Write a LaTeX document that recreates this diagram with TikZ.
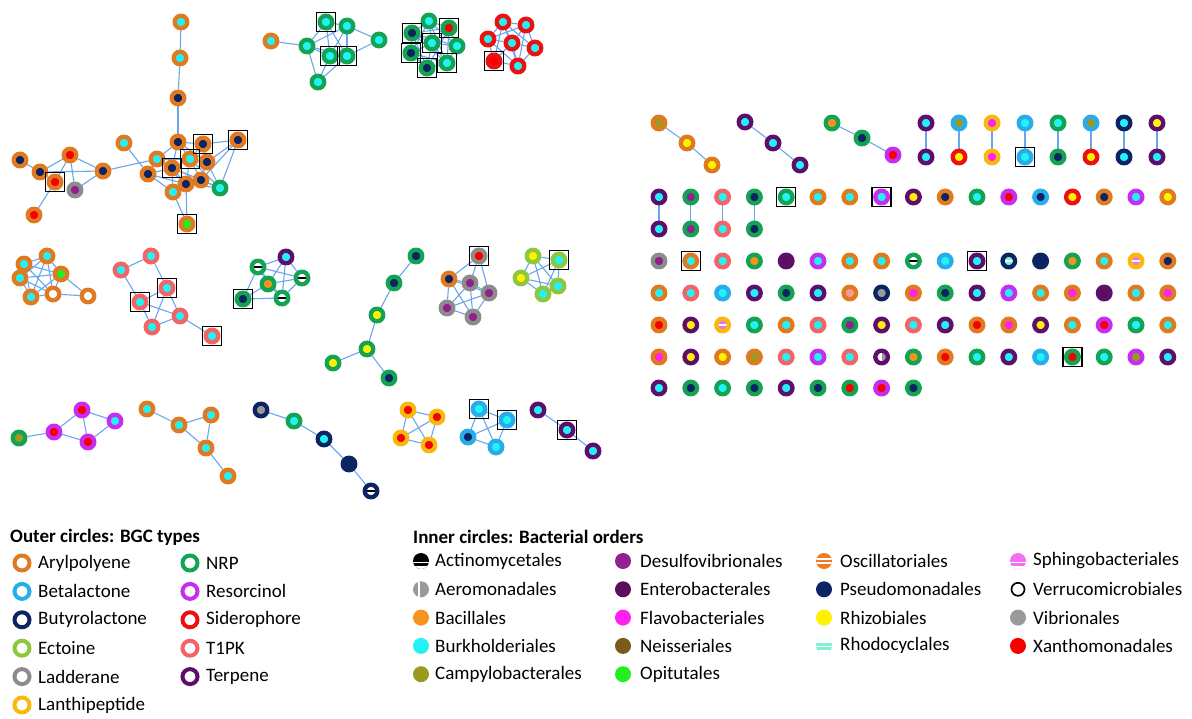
\documentclass[tikz,border=0pt]{standalone}
\usepackage{fontspec}
\setmainfont{Carlito}
\usetikzlibrary{calc}
\pgfdeclarelayer{bg}
\pgfsetlayers{bg,main}
\definecolor{aryl}{HTML}{E07A20}
\definecolor{beta}{HTML}{27AEEA}
\definecolor{buty}{HTML}{0D2463}
\definecolor{ecto}{HTML}{8DC63F}
\definecolor{ladd}{HTML}{8C8C8C}
\definecolor{lanth}{HTML}{F8B90F}
\definecolor{nrp}{HTML}{13A352}
\definecolor{reso}{HTML}{C62DF0}
\definecolor{sider}{HTML}{EC1010}
\definecolor{tpk}{HTML}{F26466}
\definecolor{terp}{HTML}{5E0F6C}
\definecolor{bac}{HTML}{F7941D}
\definecolor{burk}{HTML}{22F2F5}
\definecolor{camp}{HTML}{9B9A20}
\definecolor{desulf}{HTML}{93208F}
\definecolor{entero}{HTML}{5C0E5C}
\definecolor{flavo}{HTML}{FF22EE}
\definecolor{neiss}{HTML}{7B5B1C}
\definecolor{opit}{HTML}{22EE22}
\definecolor{oscil}{HTML}{F27A22}
\definecolor{pseudo}{HTML}{0D2463}
\definecolor{rhizo}{HTML}{FFF200}
\definecolor{rhodo}{HTML}{7FF2D4}
\definecolor{sphingo}{HTML}{F070F0}
\definecolor{vibrio}{HTML}{9A9A9A}
\definecolor{xantho}{HTML}{F70000}
\definecolor{salm}{HTML}{F49A9E}
\definecolor{edgec}{HTML}{6AA6EE}
\newcommand\bnode[5][pl]{\node[bn={#4}{#5},#1] (#2) at (#3) {};}
\newcommand\ppc{path picture bounding box.center}
\tikzset{
  bn/.style 2 args={circle,draw=#1,fill=#2,line width=4.3pt,minimum size=12.6pt,inner sep=0pt},
  pl/.style={},
  act/.style={path picture={\fill[black] ([xshift=-5pt,yshift=-1.2pt]\ppc) rectangle ([xshift=5pt,yshift=1.2pt]\ppc);}},
  stp/.style={path picture={\fill[white] ([xshift=-5pt,yshift=-0.8pt]\ppc) rectangle ([xshift=5pt,yshift=0.8pt]\ppc);}},
  aer/.style={path picture={\fill[vibrio] ([yshift=-6pt]\ppc) rectangle ([xshift=6pt,yshift=6pt]\ppc);}},
  ed/.style={draw=edgec,line width=1.1pt},
  boxl/.style={draw=black,line width=1.4pt},
  ltext/.style={anchor=west,inner sep=0pt,font=\fontsize{19}{22}\selectfont},
  ltitle/.style={anchor=west,inner sep=0pt,font=\fontsize{19}{22}\selectfont\bfseries},
  lring/.style={circle,draw=#1,line width=4pt,minimum size=15pt,inner sep=0pt},
  ldot/.style={circle,fill=#1,minimum size=16pt,inner sep=0pt},
  lbar/.style={ldot=#1,path picture={\fill[white] ([xshift=-9pt,yshift=-2.2pt]\ppc) rectangle ([xshift=9pt,yshift=-0.6pt]\ppc); \fill[white] ([xshift=-9pt,yshift=-9pt]\ppc) rectangle ([xshift=9pt,yshift=-4.6pt]\ppc);}},
  ltwo/.style={ldot=#1,path picture={\fill[white] ([xshift=-9pt,yshift=1.4pt]\ppc) rectangle ([xshift=9pt,yshift=3pt]\ppc); \fill[white] ([xshift=-9pt,yshift=-3pt]\ppc) rectangle ([xshift=9pt,yshift=-1.4pt]\ppc);}},
  lrh/.style={ldot=rhodo,path picture={\fill[white] ([xshift=-9pt,yshift=3pt]\ppc) rectangle ([xshift=9pt,yshift=9pt]\ppc); \fill[white] ([xshift=-9pt,yshift=-1.2pt]\ppc) rectangle ([xshift=9pt,yshift=0.4pt]\ppc); \fill[white] ([xshift=-9pt,yshift=-9pt]\ppc) rectangle ([xshift=9pt,yshift=-4.5pt]\ppc);}},
  lgap/.style={ldot=vibrio,path picture={\fill[white] ([xshift=-3pt,yshift=-9pt]\ppc) rectangle ([xshift=-1pt,yshift=9pt]\ppc);}},
  lver/.style={circle,draw=black,line width=1.7pt,fill=white,minimum size=13pt,inner sep=0pt},
}
\begin{document}
\begin{tikzpicture}[x=1pt,y=-1pt]
\useasboundingbox (0,0) rectangle (1192,718);
% ---------- top-left cluster
\bnode{a1}{181,22}{aryl}{burk}
\bnode{a2}{180,58}{aryl}{burk}
\bnode{a3}{178,98}{aryl}{pseudo}
\bnode{a4}{178,142}{aryl}{pseudo}
\bnode{a5}{203,144}{aryl}{pseudo}
\bnode{a6}{238,140}{aryl}{pseudo}
\bnode{a7}{157,159}{aryl}{burk}
\bnode{a8}{190,159}{aryl}{burk}
\bnode{a9}{207,162}{aryl}{pseudo}
\bnode{a10}{172,168}{aryl}{pseudo}
\bnode{a11}{148,174}{aryl}{pseudo}
\bnode{a12}{201,180}{aryl}{pseudo}
\bnode{a13}{186,184}{aryl}{pseudo}
\bnode{a14}{220,188}{nrp}{burk}
\bnode{a15}{173,192}{aryl}{burk}
\bnode{a16}{187,224}{aryl}{opit}
\bnode{a17}{124,143}{aryl}{burk}
\bnode{a18}{103,171}{aryl}{pseudo}
\bnode{a19}{70,155}{aryl}{xantho}
\bnode{a20}{20,160}{aryl}{pseudo}
\bnode{a21}{40,172}{aryl}{pseudo}
\bnode{a22}{55,182}{aryl}{xantho}
\bnode{a23}{75,190}{ladd}{desulf}
\bnode{a24}{34,215}{aryl}{xantho}
% ---------- top-middle clusters
\bnode{b1}{271,41}{aryl}{burk}
\bnode{b2}{326,22}{nrp}{burk}
\bnode{b3}{347,26}{nrp}{burk}
\bnode{b4}{307,46}{nrp}{burk}
\bnode{b5}{379,40}{nrp}{burk}
\bnode{b6}{330,56}{nrp}{burk}
\bnode{b7}{347,56}{nrp}{burk}
\bnode{b8}{318,82}{nrp}{burk}
\bnode{c1}{412,33}{nrp}{pseudo}
\bnode{c2}{429,21}{nrp}{burk}
\bnode{c3}{449,28}{nrp}{xantho}
\bnode{c4}{432,43}{nrp}{burk}
\bnode{c5}{457,46}{nrp}{burk}
\bnode{c6}{411,53}{nrp}{pseudo}
\bnode{c7}{427,68}{nrp}{pseudo}
\bnode{c8}{447,63}{nrp}{burk}
\bnode{d1}{503,22}{sider}{burk}
\bnode{d2}{526,25}{sider}{burk}
\bnode{d3}{488,39}{sider}{burk}
\bnode{d4}{512,43}{sider}{burk}
\bnode{d5}{535,48}{sider}{burk}
\bnode{d6}{494,61}{sider}{xantho}
\bnode{d7}{518,66}{sider}{burk}
% ---------- middle-left clusters
\bnode{e1}{24,264}{aryl}{burk}
\bnode{e2}{47,256}{aryl}{burk}
\bnode{e3}{20,278}{aryl}{burk}
\bnode{e4}{61,274}{aryl}{opit}
\bnode{e5}{31,297}{aryl}{burk}
\bnode{e6}{53,294}{aryl}{white}
\bnode{e7}{88,296}{aryl}{white}
\bnode{f1}{151,256}{tpk}{burk}
\bnode{f2}{121,270}{tpk}{burk}
\bnode{f3}{167,288}{tpk}{burk}
\bnode{f4}{140,302}{tpk}{burk}
\bnode{f5}{180,316}{tpk}{burk}
\bnode{f6}{152,327}{tpk}{burk}
\bnode{f7}{212,336}{tpk}{burk}
\bnode{g1}{286,257}{terp}{burk}
\bnode[act]{g2}{258,267}{nrp}{white}
\bnode[act]{g3}{302,278}{nrp}{white}
\bnode{g4}{268,284}{nrp}{bac}
\bnode[act]{g5}{282,298}{nrp}{white}
\bnode{g6}{243,299}{nrp}{pseudo}
% ---------- middle clusters
\bnode{h1}{416,256}{nrp}{pseudo}
\bnode{h2}{394,283}{nrp}{pseudo}
\bnode{h3}{377,315}{nrp}{rhizo}
\bnode{h4}{367,349}{nrp}{rhizo}
\bnode{h5}{333,363}{nrp}{rhizo}
\bnode{h6}{389,378}{nrp}{pseudo}
\bnode{i1}{479,256}{ladd}{xantho}
\bnode{i2}{449,279}{aryl}{pseudo}
\bnode{i3}{470,283}{ladd}{desulf}
\bnode{i4}{489,293}{ladd}{desulf}
\bnode{i5}{447,308}{ladd}{desulf}
\bnode{i6}{473,317}{ladd}{desulf}
\bnode{j1}{533,256}{ecto}{rhizo}
\bnode{j2}{559,260}{ecto}{burk}
\bnode{j3}{521,278}{ecto}{rhizo}
\bnode{j4}{558,286}{ecto}{burk}
\bnode{j5}{543,294}{ecto}{burk}
% ---------- bottom clusters
\bnode{k1}{19,438}{nrp}{camp}
\bnode{k2}{54,432}{reso}{xantho}
\bnode{k3}{82,410}{reso}{xantho}
\bnode{k4}{115,421}{reso}{burk}
\bnode{k5}{88,442}{reso}{xantho}
\bnode{l1}{147,409}{aryl}{burk}
\bnode{l2}{179,425}{aryl}{burk}
\bnode{l3}{211,415}{aryl}{burk}
\bnode{l4}{206,448}{aryl}{burk}
\bnode{l5}{228,476}{aryl}{burk}
\bnode{m1}{261,410}{buty}{vibrio}
\bnode{m2}{294,421}{nrp}{burk}
\bnode{m3}{324,439}{buty}{burk}
\bnode{m4}{349,464}{buty}{pseudo}
\bnode[act]{m5}{371,491}{buty}{white}
\bnode{n1}{408,410}{lanth}{xantho}
\bnode{n2}{437,417}{lanth}{xantho}
\bnode{n3}{401,438}{lanth}{xantho}
\bnode{n4}{429,445}{lanth}{xantho}
\bnode{o1}{479,409}{beta}{burk}
\bnode{o2}{507,420}{beta}{burk}
\bnode{o3}{468,437}{beta}{pseudo}
\bnode{o4}{496,447}{beta}{burk}
\bnode{p1}{538,410}{terp}{burk}
\bnode{p2}{567,430}{terp}{burk}
\bnode{p3}{593,451}{terp}{burk}
% ---------- right: chains of three
\bnode{q1}{659,123}{aryl}{camp}
\bnode{q2}{687,143}{aryl}{rhizo}
\bnode{q3}{712,165}{aryl}{rhizo}
\bnode{u1}{745,122}{terp}{burk}
\bnode{u2}{773,143}{terp}{burk}
\bnode{u3}{800,165}{terp}{burk}
\bnode{s1}{832,123}{nrp}{bac}
\bnode{s2}{862,138}{nrp}{pseudo}
\bnode{s3}{893,155}{reso}{xantho}
% ---------- right: vertical pairs
\foreach \x/\o/\i/\p/\j [count=\k] in {926/terp/burk/terp/burk, 959/beta/camp/sider/rhizo, 992/lanth/flavo/lanth/flavo, 1025/beta/burk/beta/burk, 1058/nrp/burk/nrp/pseudo, 1091/beta/camp/sider/rhizo, 1124/buty/burk/buty/burk, 1157/terp/rhizo/terp/burk}{
  \node[bn={\o}{\i}] (t\k a) at (\x,123) {};
  \node[bn={\p}{\j}] (t\k b) at (\x,157) {};
}
% ---------- right: grid rows
\foreach \o/\i/\s [count=\k] in {terp/burk/pl, nrp/desulf/pl, tpk/burk/pl, nrp/pseudo/pl, nrp/burk/pl, aryl/burk/pl, aryl/burk/pl, reso/burk/pl, terp/rhizo/pl, aryl/pseudo/pl, nrp/burk/pl, reso/xantho/pl, beta/pseudo/pl, sider/rhizo/pl, aryl/pseudo/pl, reso/burk/pl, aryl/rhizo/pl}
  {\node[bn={\o}{\i},\s] (r2c\k) at ({659+31.8*(\k-1)},197) {};}
\foreach \o/\i/\s [count=\k] in {terp/burk/pl, nrp/desulf/pl, tpk/burk/pl, nrp/pseudo/pl}
  {\node[bn={\o}{\i},\s] (r2b\k) at ({659+31.8*(\k-1)},229) {};}
\foreach \o/\i/\s [count=\k] in {ladd/desulf/pl, aryl/burk/pl, tpk/burk/pl, nrp/bac/pl, terp/entero/pl, reso/burk/pl, aryl/burk/pl, aryl/burk/pl, nrp/white/act, beta/burk/pl, terp/burk/pl, buty/rhodo/stp, buty/pseudo/pl, nrp/bac/pl, aryl/burk/pl, lanth/sphingo/stp, aryl/pseudo/pl}
  {\node[bn={\o}{\i},\s] (r3c\k) at ({659+31.8*(\k-1)},261) {};}
\foreach \o/\i/\s [count=\k] in {aryl/burk/pl, tpk/burk/pl, beta/burk/pl, terp/burk/pl, nrp/pseudo/pl, terp/burk/pl, aryl/salm/pl, buty/vibrio/pl, aryl/flavo/pl, nrp/pseudo/pl, terp/burk/pl, reso/burk/pl, aryl/burk/pl, aryl/flavo/pl, terp/entero/pl, aryl/burk/pl, aryl/flavo/pl}
  {\node[bn={\o}{\i},\s] (r4c\k) at ({659+31.8*(\k-1)},293) {};}
\foreach \o/\i/\s [count=\k] in {aryl/xantho/pl, terp/rhizo/pl, lanth/sphingo/stp, nrp/burk/pl, aryl/burk/pl, tpk/burk/pl, nrp/desulf/pl, terp/rhizo/pl, tpk/burk/pl, terp/burk/pl, aryl/xantho/pl, aryl/flavo/pl, terp/rhizo/pl, aryl/burk/pl, reso/xantho/pl, nrp/burk/pl, aryl/burk/pl}
  {\node[bn={\o}{\i},\s] (r5c\k) at ({659+31.8*(\k-1)},325) {};}
\foreach \o/\i/\s [count=\k] in {aryl/flavo/pl, terp/rhizo/pl, aryl/rhizo/pl, aryl/camp/pl, tpk/burk/pl, reso/burk/pl, tpk/burk/pl, terp/white/aer, nrp/bac/pl, aryl/xantho/pl, nrp/burk/pl, terp/burk/pl, beta/burk/pl, nrp/xantho/pl, nrp/burk/pl, reso/camp/pl, terp/burk/pl}
  {\node[bn={\o}{\i},\s] (r6c\k) at ({659+31.8*(\k-1)},357) {};}
\foreach \o/\i/\s [count=\k] in {terp/burk/pl, nrp/pseudo/pl, nrp/burk/pl, nrp/pseudo/pl, terp/burk/pl, nrp/pseudo/pl, nrp/xantho/pl, reso/xantho/pl, nrp/pseudo/pl}
  {\node[bn={\o}{\i},\s] (r7c\k) at ({659+31.8*(\k-1)},388) {};}
% ---------- edges
\begin{pgfonlayer}{bg}
\foreach \a/\b in {a1/a2,a2/a3,a3/a4,a4/a5,a4/a7,a4/a8,a4/a9,a4/a10,a5/a6,a5/a8,a5/a9,a6/a9,a6/a12,a6/a14,a7/a8,a7/a10,a7/a11,a7/a13,a8/a9,a8/a10,a8/a12,a8/a13,a8/a14,a9/a12,a9/a14,a10/a11,a10/a12,a10/a13,a10/a15,a11/a13,a11/a15,a11/a17,a12/a13,a12/a14,a13/a14,a13/a15,a13/a16,a15/a16,a10/a14,a18/a7,a20/a21,a21/a19,a21/a22,a21/a18,a19/a22,a19/a18,a19/a23,a22/a24,a23/a18,
 b1/b4,b4/b2,b4/b3,b4/b6,b4/b7,b4/b8,b2/b3,b2/b6,b2/b7,b3/b6,b3/b7,b3/b5,b5/b7,b6/b7,b6/b8,b7/b8,
 c1/c2,c1/c3,c1/c4,c1/c5,c1/c6,c1/c7,c1/c8,c2/c3,c2/c4,c2/c5,c2/c6,c3/c4,c3/c5,c3/c8,c4/c5,c4/c6,c4/c7,c4/c8,c5/c8,c6/c7,c6/c8,c7/c8,c2/c8,c3/c7,
 d1/d2,d1/d3,d1/d4,d1/d5,d1/d7,d2/d4,d2/d5,d2/d3,d3/d4,d3/d6,d3/d7,d4/d5,d4/d6,d4/d7,d5/d7,d6/d7,d2/d7,d1/d6,
 e1/e2,e1/e3,e1/e4,e1/e5,e1/e6,e2/e3,e2/e4,e2/e5,e2/e6,e3/e4,e3/e5,e3/e6,e4/e5,e4/e6,e5/e6,e4/e7,e6/e7,
 f1/f2,f1/f3,f2/f4,f3/f4,f3/f5,f3/f6,f4/f5,f4/f6,f5/f6,f5/f7,
 g1/g2,g1/g3,g1/g4,g1/g5,g2/g3,g2/g4,g2/g6,g2/g5,g3/g4,g3/g5,g4/g5,g4/g6,g5/g6,
 h1/h2,h2/h3,h3/h4,h4/h5,h4/h6,
 i1/i2,i1/i3,i1/i4,i2/i3,i2/i5,i2/i6,i2/i4,i3/i4,i3/i5,i3/i6,i4/i5,i4/i6,i5/i6,
 j1/j2,j1/j3,j1/j4,j1/j5,j2/j3,j2/j4,j2/j5,j3/j4,j3/j5,j4/j5,
 k1/k2,k2/k3,k2/k5,k3/k5,k3/k4,k4/k5,
 l1/l2,l2/l3,l2/l4,l3/l4,l4/l5,
 m1/m2,m2/m3,m3/m4,m4/m5,
 n1/n2,n1/n3,n1/n4,n2/n3,n2/n4,n3/n4,
 o1/o2,o1/o3,o1/o4,o2/o3,o2/o4,o3/o4,
 p1/p2,p2/p3,
 q1/q2,q2/q3,u1/u2,u2/u3,s1/s2,s2/s3,
 t1a/t1b,t2a/t2b,t3a/t3b,t4a/t4b,t5a/t5b,t6a/t6b,t7a/t7b,t8a/t8b,
 r2c1/r2b1,r2c2/r2b2,r2c3/r2b3,r2c4/r2b4}
  \draw[ed] (\a) -- (\b);
\end{pgfonlayer}
% ---------- boxes
\foreach \n in {a5,a6,a8,a10,a16,a22,b2,b6,b7,c1,c3,c4,c6,c7,c8,d6,f3,f4,f7,g6,i1,j2,o1,o2,p2,t4b,r2c5,r2c8,r3c2,r3c11,r6c14}
  \draw[boxl] ($(\n)+(-9.5,-9.5)$) rectangle ($(\n)+(9.5,9.5)$);
% ---------- legend: outer circles
\node[ltitle] (ot) at (10,537) {Outer circles: BGC types};
\foreach \c/\t [count=\k] in {aryl/Arylpolyene,beta/Betalactone,buty/Butyrolactone,ecto/Ectoine,ladd/Ladderane,lanth/Lanthipeptide}{
  \node[lring=\c] (lo\k) at (22,{563+28.4*(\k-1)}) {};
  \node[ltext] (lot\k) at (38,{563+28.4*(\k-1)}) {\t};
}
\foreach \c/\t [count=\k] in {nrp/NRP,reso/Resorcinol,sider/Siderophore,tpk/T1PK,terp/Terpene}{
  \node[lring=\c] (lp\k) at (190,{563+28.4*(\k-1)}) {};
  \node[ltext] (lpt\k) at (206,{563+28.4*(\k-1)}) {\t};
}
% ---------- legend: inner circles
\node[ltitle] (it) at (413,537) {Inner circles: Bacterial orders};
\node[lbar=black] (i1a) at (421,561) {};      \node[ltext] at (435,561) {Actinomycetales};
\node[lgap] (i1b) at (421,589.3) {};          \node[ltext] at (435,589.3) {Aeromonadales};
\node[ldot=bac] (i1c) at (421,617.6) {};      \node[ltext] at (435,617.6) {Bacillales};
\node[ldot=burk] (i1d) at (421,645.9) {};     \node[ltext] at (435,645.9) {Burkholderiales};
\node[ldot=camp] (i1e) at (421,674.2) {};     \node[ltext] at (435,674.2) {Campylobacterales};
\node[ldot=desulf] (i2a) at (623,561) {};     \node[ltext] at (640,561) {Desulfovibrionales};
\node[ldot=entero] (i2b) at (623,589.3) {};   \node[ltext] at (640,589.3) {Enterobacterales};
\node[ldot=flavo] (i2c) at (623,617.6) {};    \node[ltext] at (640,617.6) {Flavobacteriales};
\node[ldot=neiss] (i2d) at (623,645.9) {};    \node[ltext] at (640,645.9) {Neisseriales};
\node[ldot=opit] (i2e) at (623,674.2) {};     \node[ltext] at (640,674.2) {Opitutales};
\node[ltwo=oscil] (i3a) at (824,561) {};      \node[ltext] at (840,561) {Oscillatoriales};
\node[ldot=pseudo] (i3b) at (824,589.3) {};   \node[ltext] at (840,589.3) {Pseudomonadales};
\node[ldot=rhizo] (i3c) at (824,617.6) {};    \node[ltext] at (840,617.6) {Rhizobiales};
\node[lrh] (i3d) at (824,645.9) {};           \node[ltext] at (840,645.9) {Rhodocyclales};
\node[lbar=sphingo] (i4a) at (1018,561) {};   \node[ltext] at (1033,561) {Sphingobacteriales};
\node[lver] (i4b) at (1018,589.3) {};         \node[ltext] at (1033,589.3) {Verrucomicrobiales};
\node[ldot=vibrio] (i4c) at (1018,617.6) {};  \node[ltext] at (1033,617.6) {Vibrionales};
\node[ldot=xantho] (i4d) at (1018,645.9) {};  \node[ltext] at (1033,645.9) {Xanthomonadales};
\end{tikzpicture}
\end{document}
